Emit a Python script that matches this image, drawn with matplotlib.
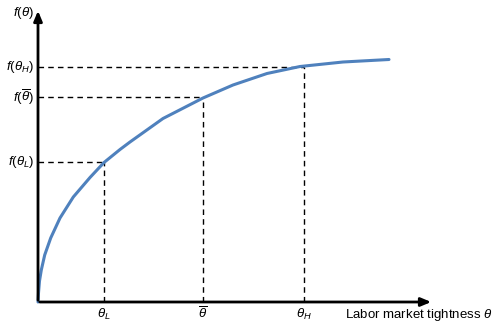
import matplotlib
matplotlib.use('Agg')
import matplotlib.pyplot as plt

plt.rcParams['font.family'] = 'Liberation Sans'
plt.rcParams['mathtext.fontset'] = 'custom'
plt.rcParams['mathtext.rm'] = 'Liberation Sans'
plt.rcParams['mathtext.it'] = 'Liberation Sans:italic'

# curve f(theta)
theta = [0, 0.5, 1.5, 3.3, 6.7, 12.7, 22, 35.3, 52, 66, 82, 92, 125, 165,
         195, 229, 262, 305, 351]
f_theta = [0, 9, 21, 32, 47, 64, 84, 105, 124.5, 139.5, 152.5, 160, 183.5, 204,
           217, 228.5, 235.5, 240, 242.5]

# marked points
mark_x = [66, 165, 266]
mark_y = [140, 205, 235]
x_labels = [r'$\theta_L$', r'$\overline{\theta}$', r'$\theta_H$']
y_labels = [r'$f(\theta_L)$', r'$f(\overline{\theta})$', r'$f(\theta_H)$']

fig = plt.figure(figsize=(4.92, 3.25), dpi=100)
ax = fig.add_axes([0, 0, 1, 1])
ax.set_xlim(-38, 454)
ax.set_ylim(-23, 302)
ax.axis('off')

ax.plot(theta, f_theta, color='#4F81BD', lw=2.2, solid_capstyle='round',
        solid_joinstyle='round', zorder=3)

for mx, my in zip(mark_x, mark_y):
    ax.plot([0, mx], [my, my], color='black', lw=1, ls=(0, (4, 3)))
    ax.plot([mx, mx], [0, my], color='black', lw=1, ls=(0, (4, 3)))

# axes with arrows
ax.annotate('', xy=(396, 0), xytext=(-1, 0),
            arrowprops=dict(arrowstyle='-|>,head_length=0.6,head_width=0.25', color='black', lw=2))
ax.annotate('', xy=(0, 294), xytext=(0, -1),
            arrowprops=dict(arrowstyle='-|>,head_length=0.6,head_width=0.25', color='black', lw=2))

fs = 9.5
for mx, lab in zip(mark_x, x_labels):
    ax.text(mx, -12, lab, ha='center', va='center', fontsize=fs)
for my, lab in zip(mark_y, y_labels):
    ax.text(-4, my, lab, ha='right', va='center', fontsize=fs)
ax.text(-4, 289, r'$f(\theta)$', ha='right', va='center', fontsize=fs)
ax.text(307, -13, r'Labor market tightness $\theta$', ha='left', va='center', fontsize=fs)

fig.savefig('out.png', dpi=100)
